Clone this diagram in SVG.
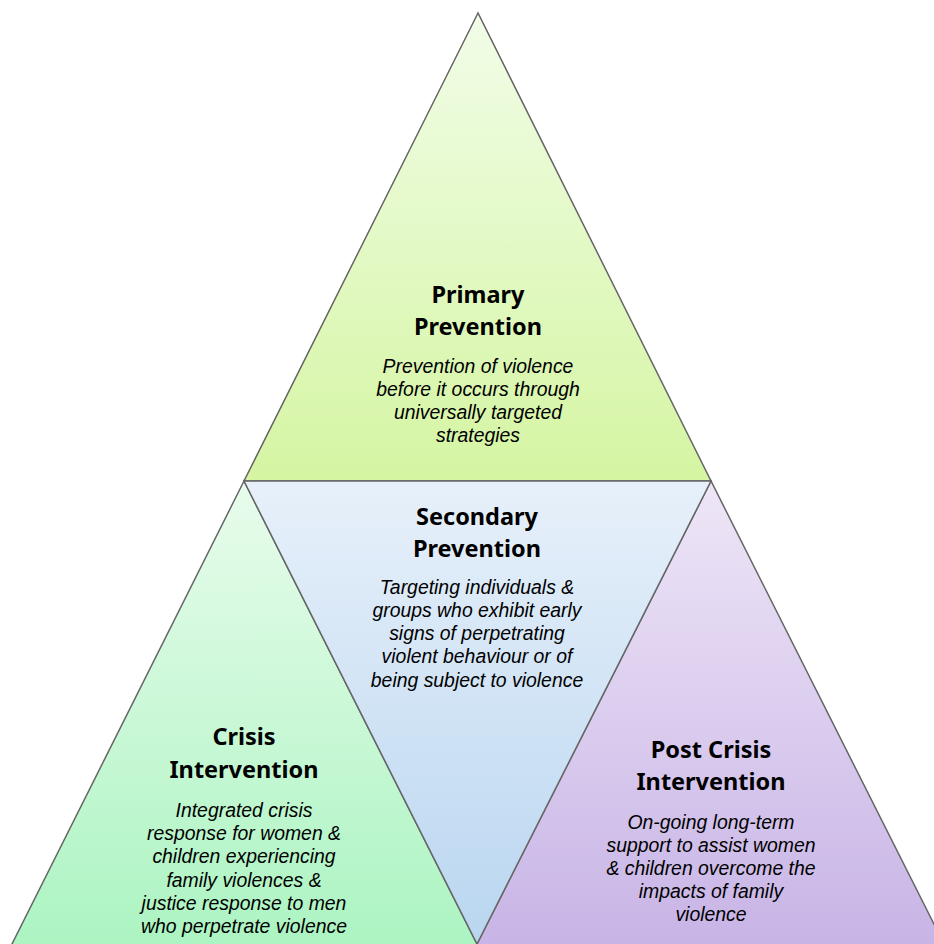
<svg xmlns="http://www.w3.org/2000/svg" width="934" height="944" viewBox="0 0 934 944">
<defs>
<linearGradient id="gTop" x1="0" y1="0" x2="0" y2="1"><stop offset="0" stop-color="#f1fde8"/><stop offset="1" stop-color="#d5f5a2"/></linearGradient>
<linearGradient id="gMid" x1="0" y1="0" x2="0" y2="1"><stop offset="0" stop-color="#e7f0fa"/><stop offset="1" stop-color="#b9d6f0"/></linearGradient>
<linearGradient id="gLeft" x1="0" y1="0" x2="0" y2="1"><stop offset="0" stop-color="#e8fcec"/><stop offset="1" stop-color="#acf4c2"/></linearGradient>
<linearGradient id="gRight" x1="0" y1="0" x2="0" y2="1"><stop offset="0" stop-color="#eee6f7"/><stop offset="1" stop-color="#c8b4e6"/></linearGradient>
<style>
.tri{stroke:#666;stroke-width:1.5;stroke-linejoin:miter}
.t{font-family:"Noto Sans","Open Sans",sans-serif;font-weight:bold;font-size:23.5px;fill:#000;text-anchor:middle}
.d{font-family:"Liberation Sans",Arial,sans-serif;font-style:italic;font-size:19.4px;fill:#000;text-anchor:middle}
</style>
</defs>
<g id="primary">
<polygon class="tri" points="478,13 244,481 711,481" fill="url(#gTop)"/>
<text class="t" x="478" y="303">Primary</text>
<text class="t" x="478" y="335">Prevention</text>
<text class="d" x="478" y="373">Prevention of violence</text>
<text class="d" x="478" y="396">before it occurs through</text>
<text class="d" x="478" y="419">universally targeted</text>
<text class="d" x="478" y="442">strategies</text>
</g>
<g id="crisis">
<polygon class="tri" points="244,481 11,946 478,946" fill="url(#gLeft)"/>
<text class="t" x="244" y="745">Crisis</text>
<text class="t" x="244" y="778">Intervention</text>
<text class="d" x="244" y="817">Integrated crisis</text>
<text class="d" x="244" y="840">response for women &amp;</text>
<text class="d" x="244" y="863">children experiencing</text>
<text class="d" x="244" y="887">family violences &amp;</text>
<text class="d" x="244" y="910">justice response to men</text>
<text class="d" x="244" y="933">who perpetrate violence</text>
</g>
<g id="postcrisis">
<polygon class="tri" points="711,481 476,946 945,946" fill="url(#gRight)"/>
<text class="t" x="711" y="758">Post Crisis</text>
<text class="t" x="711" y="790">Intervention</text>
<text class="d" x="711" y="829">On-going long-term</text>
<text class="d" x="711" y="852">support to assist women</text>
<text class="d" x="711" y="875">&amp; children overcome the</text>
<text class="d" x="711" y="898">impacts of family</text>
<text class="d" x="711" y="921">violence</text>
</g>
<g id="secondary">
<polygon class="tri" points="244,481 711,481 477,944" fill="url(#gMid)" stroke="#4a4a4a"/>
<text class="t" x="477" y="525">Secondary</text>
<text class="t" x="477" y="557">Prevention</text>
<text class="d" x="477" y="594">Targeting individuals &amp;</text>
<text class="d" x="477" y="617">groups who exhibit early</text>
<text class="d" x="477" y="640">signs of perpetrating</text>
<text class="d" x="477" y="663">violent behaviour or of</text>
<text class="d" x="477" y="687">being subject to violence</text>
</g>
</svg>
